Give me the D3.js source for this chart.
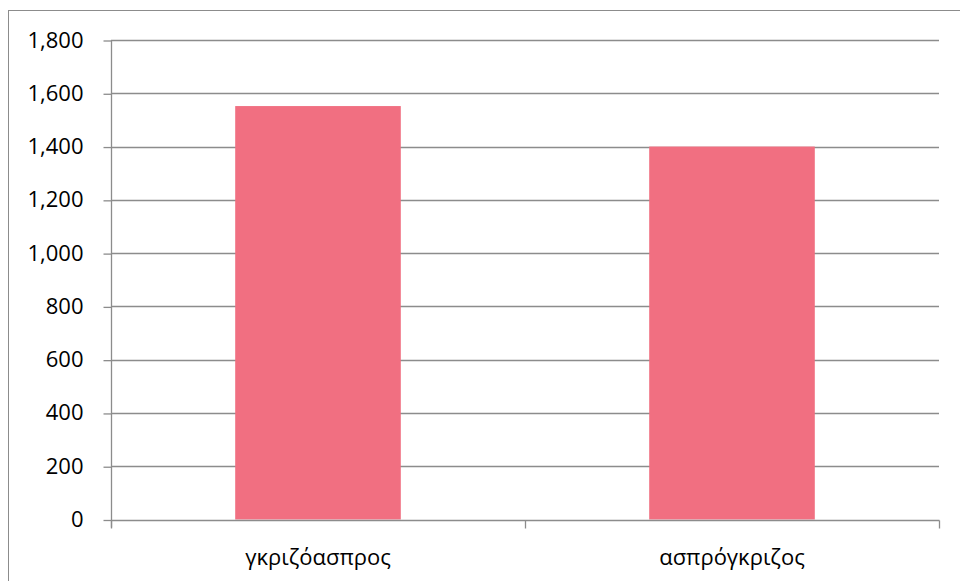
<!DOCTYPE html>
<html>
<head>
<meta charset="utf-8">
<script src="https://cdn.jsdelivr.net/npm/d3@7"></script>
<style>
  html, body { margin: 0; padding: 0; background: #fff; }
  svg { display: block; }
  text { font-family: "Open Sans", "Noto Sans", sans-serif; fill: #000; }
</style>
</head>
<body>
<svg id="chart" width="960" height="581"></svg>
<script>
// Categories and their values
const categories = ["γκριζόασπρος", "ασπρόγκριζος"];
const values = [1552, 1400];
const yTicks = [0, 200, 400, 600, 800, 1000, 1200, 1400, 1600, 1800];

const width = 960, height = 581;
const margin = { left: 111, right: 21, top: 40, bottom: 61.5 };
const gridColor = "#8c8c8c";
const gridWidth = 1.3;
const barColor = "#f16f81";
const fontSize = 22;

const svg = d3.select("#chart");

// Outer frame of the chart area
svg.append("rect")
  .attr("x", 8.5).attr("y", 10.5)
  .attr("width", 980).attr("height", 600)
  .attr("fill", "none").attr("stroke", gridColor).attr("stroke-width", 1);

const x = d3.scaleBand()
  .domain(categories)
  .range([margin.left, width - margin.right])
  .paddingInner(0.6)
  .paddingOuter(0.3);

const y = d3.scaleLinear()
  .domain([0, 1800])
  .range([height - margin.bottom, margin.top]);

const fmt = d3.format(",");

// Horizontal gridlines
svg.append("g")
  .selectAll("line")
  .data(yTicks.filter(d => d > 0))
  .join("line")
  .attr("x1", margin.left).attr("x2", width - margin.right)
  .attr("y1", d => Math.round(y(d)) + 0.5).attr("y2", d => Math.round(y(d)) + 0.5)
  .attr("stroke", gridColor).attr("stroke-width", gridWidth);

// Bars
svg.append("g")
  .selectAll("rect")
  .data(categories)
  .join("rect")
  .attr("x", d => x(d))
  .attr("width", x.bandwidth())
  .attr("y", (d, i) => y(values[i]))
  .attr("height", (d, i) => y(0) - y(values[i]))
  .attr("fill", barColor);

// Y axis
const yAxis = d3.axisLeft(y)
  .tickValues(yTicks)
  .tickFormat(fmt)
  .tickSize(8)
  .tickPadding(20);
const gy = svg.append("g")
  .attr("transform", `translate(${margin.left + 0.5},0)`)
  .call(yAxis);
gy.select(".domain")
  .attr("stroke", gridColor).attr("stroke-width", gridWidth)
  .attr("d", `M0,${margin.top}V${y(0) + 8}`);
gy.selectAll(".tick line")
  .attr("stroke", gridColor).attr("stroke-width", gridWidth)
  .attr("transform", "translate(0,0.5)");
gy.selectAll(".tick text")
  .attr("font-size", fontSize)
  .attr("font-family", "\"Open Sans\", \"Noto Sans\", sans-serif")
  .attr("fill", "#000");

// X axis: boundary ticks between categories
const xAxisY = Math.round(y(0)) + 0.5;
const gx = svg.append("g");
gx.append("line")
  .attr("x1", margin.left).attr("x2", width - margin.right + 0.5)
  .attr("y1", xAxisY).attr("y2", xAxisY)
  .attr("stroke", gridColor).attr("stroke-width", gridWidth);
const boundaries = d3.range(categories.length + 1)
  .map(i => margin.left + i * (width - margin.left - margin.right) / categories.length);
gx.selectAll("line.tk")
  .data(boundaries)
  .join("line")
  .attr("class", "tk")
  .attr("x1", d => Math.round(d) + 0.5).attr("x2", d => Math.round(d) + 0.5)
  .attr("y1", xAxisY).attr("y2", xAxisY + 8)
  .attr("stroke", gridColor).attr("stroke-width", gridWidth);

gx.selectAll("text")
  .data(categories)
  .join("text")
  .attr("x", d => x(d) + x.bandwidth() / 2)
  .attr("y", 565)
  .attr("text-anchor", "middle")
  .attr("font-size", fontSize)
  .text(d => d);
</script>
</body>
</html>
